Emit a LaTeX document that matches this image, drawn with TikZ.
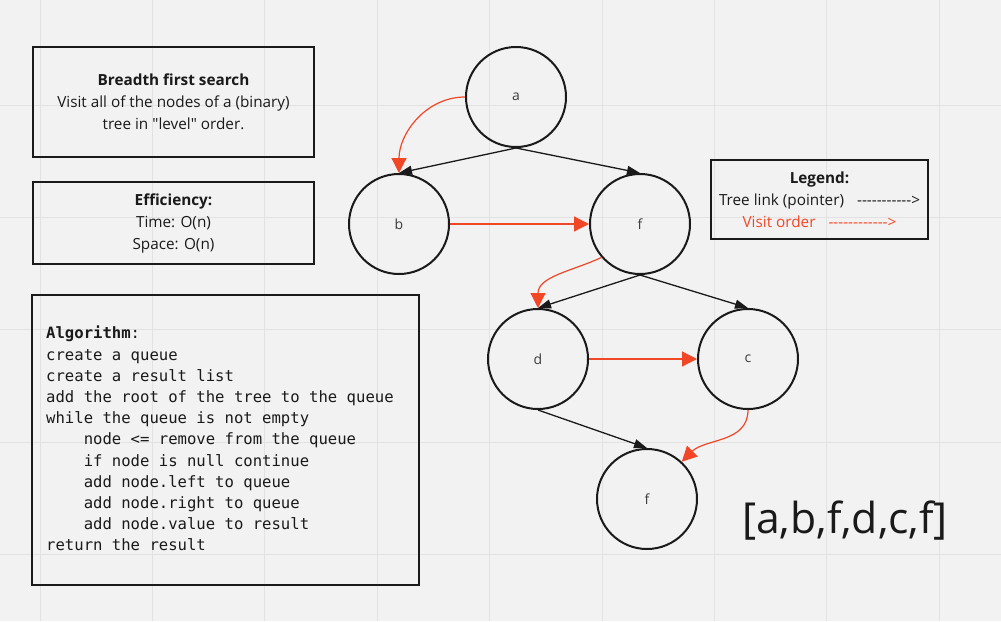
\documentclass[tikz,border=0pt]{standalone}
\usepackage{fontspec}
\setmainfont{Open Sans}[Ligatures=TeXOff]
\newfontfamily\algofont{DejaVu Sans Mono}
\usetikzlibrary{arrows.meta}

\definecolor{paper}{HTML}{F2F2F2}
\definecolor{gridline}{HTML}{E2E2E2}
\definecolor{ink}{HTML}{1A1A1A}
\definecolor{visitred}{HTML}{F24726}

\newcommand{\dashtext}[1]{\foreach \k in {1,...,#1}{-\kern0pt}>}
\newcommand{\ind}{\hphantom{xxxx}}

\begin{document}
\begin{tikzpicture}[x=1pt,y=-1pt,
    box/.style={draw=ink, line width=2.5pt, inner sep=0pt, align=center, text=ink,
                font=\fontsize{15.3}{22}\selectfont},
    tnode/.style={circle, draw=ink, line width=2pt, minimum size=100pt, inner sep=0pt,
                  text=ink!85, font=\fontsize{14}{16}\selectfont},
    link/.style={draw=ink, line width=1.3pt, -{Triangle[length=13pt,width=9pt]}},
    visit/.style={draw=visitred, line width=1.2pt, -{Triangle[length=15pt,width=15pt]}}]
  \useasboundingbox[fill=paper] (0,0) rectangle (1001,621);
  \foreach \g in {0,...,8}
    \draw[gridline, line width=1pt] (40+112.4*\g,0) -- (40+112.4*\g,621);
  \foreach \g in {0,...,4}
    \draw[gridline, line width=1pt] (0,105+112.4*\g) -- (1001,105+112.4*\g);

  % text boxes
  \node[box, minimum width=281pt, minimum height=110pt] (intro) at (173.5,102)
    {\textbf{Breadth first search}\\Visit all of the nodes of a (binary)\\tree in "level" order.};
  \node[box, minimum width=281pt, minimum height=82pt] (eff) at (173.5,223)
    {\textbf{Efficiency:}\\Time: O(n)\\Space: O(n)};
  \node[box, minimum width=217pt, minimum height=79pt] (legend) at (819.5,199.5)
    {\textbf{Legend:}\\Tree link (pointer)\hspace{13pt}\dashtext{11}\\
     \textcolor{visitred}{Visit order\hspace{13pt}\dashtext{12}}};
  \node[box, minimum width=387pt, minimum height=290pt] (algo) at (225.5,440) {};
  \node[anchor=north west, inner sep=0pt, align=left, text=ink,
        font=\algofont\fontsize{15.6}{21.2}\selectfont] (steps) at (46,326)
    {\textbf{Algorithm}:\\
     create a queue\\
     create a result list\\
     add the root of the tree to the queue\\
     while the queue is not empty\\
     \ind node <= remove from the queue\\
     \ind if node is null continue\\
     \ind add node.left to queue\\
     \ind add node.right to queue\\
     \ind add node.value to result\\
     return the result};

  % tree
  \node[tnode] (A)  at (516,97)  {a};
  \node[tnode] (B)  at (399,224) {b};
  \node[tnode] (F)  at (640,224) {f};
  \node[tnode] (D)  at (538,359) {d};
  \node[tnode] (C)  at (748,359) {c};
  \node[tnode] (F2) at (647,499) {f};

  \path (A.south) edge[link] (B.north);
  \path (A.south) edge[link] (F.north);
  \path (F.south) edge[link] (D.north);
  \path (F.south) edge[link] (C.north);
  \path (D.south) edge[link] (F2.north);

  \path (A.west)  edge[visit, out=180, in=90] (B.north);
  \path (B.east)  edge[visit] (F.west);
  \path (F.221)   edge[visit, out=205, in=90] (D.north);
  \path (D.east)  edge[visit] (C.west);
  \path (C.south) edge[visit, out=-90, in=45] (F2.47);

  \node[text=ink, font=\fontsize{42.7}{50}\selectfont] (result) at (845,521) {[a,b,f,d,c,f]};
\end{tikzpicture}
\end{document}
